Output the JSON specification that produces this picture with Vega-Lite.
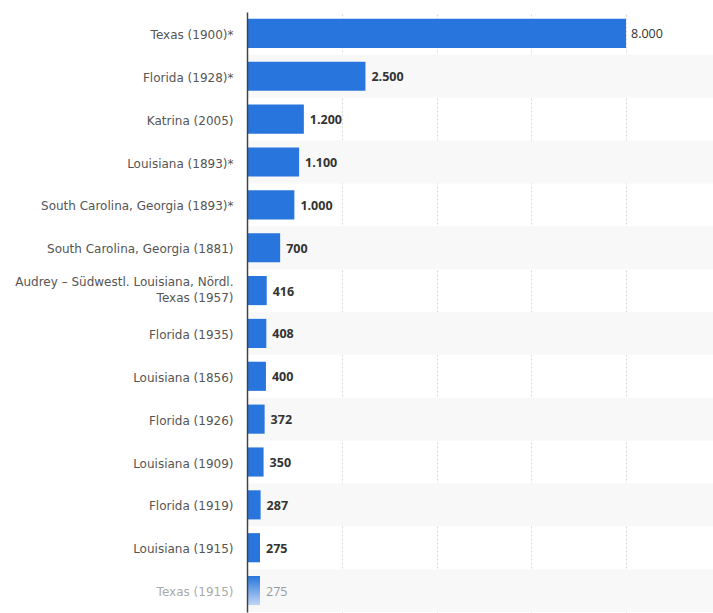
{
  "$schema": "https://vega.github.io/schema/vega-lite/v6.json",
  "autosize": {"type": "none"},
  "width": 466,
  "height": 600,
  "padding": {"left": 247, "top": 12, "right": 0, "bottom": 1},
  "background": "white",
  "config": {
    "view": {"stroke": null},
    "locale": {"number": {"decimal": ",", "thousands": ".", "grouping": [3], "currency": ["", " €"]}},
    "font": "Open Sans"
  },
  "data": {
    "values": [
      {"name": "Texas (1900)*", "deaths": 8000},
      {"name": "Florida (1928)*", "deaths": 2500},
      {"name": "Katrina (2005)", "deaths": 1200},
      {"name": "Louisiana (1893)*", "deaths": 1100},
      {"name": "South Carolina, Georgia (1893)*", "deaths": 1000},
      {"name": "South Carolina, Georgia (1881)", "deaths": 700},
      {"name": "Audrey – Südwestl. Louisiana, Nördl. Texas (1957)", "deaths": 416},
      {"name": "Florida (1935)", "deaths": 408},
      {"name": "Louisiana (1856)", "deaths": 400},
      {"name": "Florida (1926)", "deaths": 372},
      {"name": "Louisiana (1909)", "deaths": 350},
      {"name": "Florida (1919)", "deaths": 287},
      {"name": "Louisiana (1915)", "deaths": 275},
      {"name": "Texas (1915)", "deaths": 275}
    ]
  },
  "encoding": {
    "y": {
      "field": "name",
      "type": "nominal",
      "sort": ["Texas (1900)*", "Florida (1928)*", "Katrina (2005)", "Louisiana (1893)*", "South Carolina, Georgia (1893)*", "South Carolina, Georgia (1881)", "Audrey – Südwestl. Louisiana, Nördl. Texas (1957)", "Florida (1935)", "Louisiana (1856)", "Florida (1926)", "Louisiana (1909)", "Florida (1919)", "Louisiana (1915)", "Texas (1915)"],
      "scale": {"paddingInner": 0, "paddingOuter": 0},
      "axis": {
        "title": null,
        "ticks": false,
        "labelPadding": 14,
        "labelFont": "DejaVu Sans",
        "labelFontSize": 12,
        "labelLineHeight": 16,
        "labelBaseline": "middle",
        "labelOffset": {"condition": {"test": "datum.value === 'Audrey – Südwestl. Louisiana, Nördl. Texas (1957)'", "value": -8.5}, "value": 1.5},
        "labelColor": {"condition": {"test": "datum.value === 'Texas (1915)'", "value": "#aaaaaa"}, "value": "#555555"},
        "labelLimit": 300,
        "labelExpr": "datum.value === 'Audrey – Südwestl. Louisiana, Nördl. Texas (1957)' ? ['Audrey – Südwestl. Louisiana, Nördl.', 'Texas (1957)'] : datum.value",
        "domainColor": "#444444",
        "domainWidth": 1.5,
        "grid": false,
        "zindex": 2
      }
    }
  },
  "layer": [
    {
      "transform": [
        {"window": [{"op": "row_number", "as": "rn"}]},
        {"filter": "datum.rn % 2 == 0"}
      ],
      "mark": {"type": "bar", "color": "#f8f8f8", "height": {"band": 1}},
      "encoding": {
        "x": {"datum": 0, "type": "quantitative"},
        "x2": {"datum": 9836}
      }
    },
    {
      "mark": {"type": "bar", "height": {"band": 0.68}},
      "encoding": {
        "x": {
          "field": "deaths",
          "type": "quantitative",
          "scale": {"domain": [0, 9836], "nice": false, "zero": true},
          "axis": {
            "title": null,
            "labels": false,
            "ticks": false,
            "domain": false,
            "values": [2000, 4000, 6000, 8000],
            "grid": true,
            "gridColor": "#d8d8d8",
            "gridDash": [2, 2],
            "gridWidth": 1
          }
        },
        "color": {
          "condition": {
            "test": "datum.name === 'Texas (1915)'",
            "value": {"gradient": "linear", "x1": 0, "y1": 0, "x2": 0, "y2": 1, "stops": [{"offset": 0, "color": "#2876dd"}, {"offset": 1, "color": "#c2d6f4"}]}
          },
          "value": "#2876dd"
        }
      }
    },
    {
      "transform": [{"filter": "datum.name !== 'Texas (1915)' && datum.name !== 'Texas (1900)*'"}],
      "mark": {"type": "text", "align": "left", "baseline": "middle", "dx": 6, "dy": 1, "fontSize": 12.5, "fontWeight": "bold", "color": "#333333"},
      "encoding": {
        "x": {"field": "deaths", "type": "quantitative"},
        "text": {"field": "deaths", "type": "quantitative", "format": ",d"}
      }
    },
    {
      "transform": [{"filter": "datum.name === 'Texas (1900)*'"}],
      "mark": {"type": "text", "align": "left", "baseline": "middle", "dx": 5, "dy": 1, "fontSize": 12.5, "fontWeight": "normal", "color": "#333333"},
      "encoding": {
        "x": {"field": "deaths", "type": "quantitative"},
        "text": {"field": "deaths", "type": "quantitative", "format": ",d"}
      }
    },
    {
      "transform": [{"filter": "datum.name === 'Texas (1915)'"}],
      "mark": {"type": "text", "align": "left", "baseline": "middle", "dx": 6, "dy": 1, "fontSize": 12.5, "fontWeight": "normal", "color": "#999999"},
      "encoding": {
        "x": {"field": "deaths", "type": "quantitative"},
        "text": {"field": "deaths", "type": "quantitative", "format": ",d"}
      }
    }
  ]
}
